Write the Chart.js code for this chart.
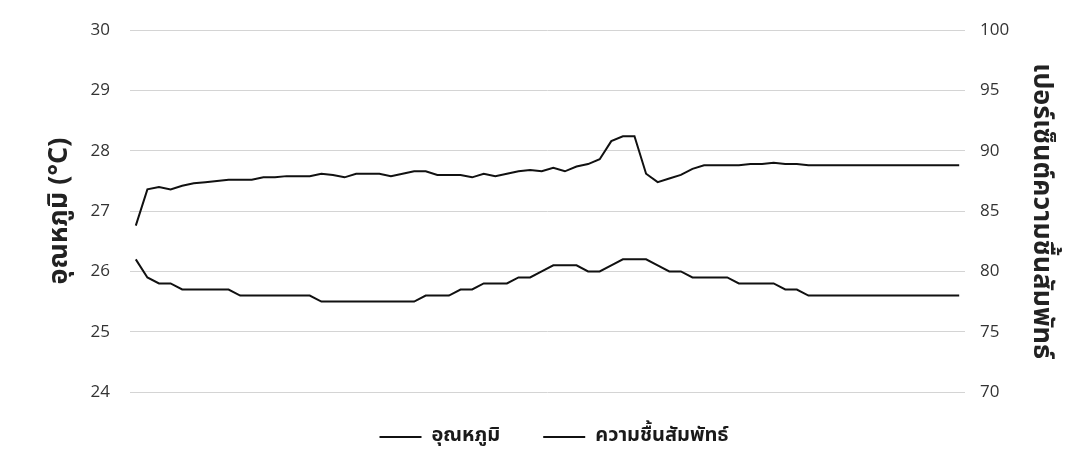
<!DOCTYPE html>
<html>
<head>
<meta charset="utf-8">
<script src="https://cdn.jsdelivr.net/npm/chart.js@4.4.1/dist/chart.umd.min.js"></script>
<style>
  html, body { margin: 0; padding: 0; background: #fff; }
  #wrap { width: 1088px; height: 457px; }
</style>
</head>
<body>
<div id="wrap"><canvas id="climateChart" width="1088" height="457"></canvas></div>
<script>
// hourly readings, 72 points (labels are not shown on the chart)
const hourLabels = [
    '1','2','3','4','5','6','7','8','9','10','11','12',
    '13','14','15','16','17','18','19','20','21','22','23','24',
    '25','26','27','28','29','30','31','32','33','34','35','36',
    '37','38','39','40','41','42','43','44','45','46','47','48',
    '49','50','51','52','53','54','55','56','57','58','59','60',
    '61','62','63','64','65','66','67','68','69','70','71','72'
];

// อุณหภูมิ (°C) - left axis
const temperatureValues = [
    26.2, 25.9, 25.8, 25.8, 25.7, 25.7, 25.7, 25.7, 25.7, 25.6, 25.6, 25.6,
    25.6, 25.6, 25.6, 25.6, 25.5, 25.5, 25.5, 25.5, 25.5, 25.5, 25.5, 25.5,
    25.5, 25.6, 25.6, 25.6, 25.7, 25.7, 25.8, 25.8, 25.8, 25.9, 25.9, 26.0,
    26.1, 26.1, 26.1, 26.0, 26.0, 26.1, 26.2, 26.2, 26.2, 26.1, 26.0, 26.0,
    25.9, 25.9, 25.9, 25.9, 25.8, 25.8, 25.8, 25.8, 25.7, 25.7, 25.6, 25.6,
    25.6, 25.6, 25.6, 25.6, 25.6, 25.6, 25.6, 25.6, 25.6, 25.6, 25.6, 25.6
];

// ความชื้นสัมพัทธ์ (%) - right axis
const humidityValues = [
    83.8, 86.8, 87.0, 86.8, 87.1, 87.3, 87.4, 87.5, 87.6, 87.6, 87.6, 87.8,
    87.8, 87.9, 87.9, 87.9, 88.1, 88.0, 87.8, 88.1, 88.1, 88.1, 87.9, 88.1,
    88.3, 88.3, 88.0, 88.0, 88.0, 87.8, 88.1, 87.9, 88.1, 88.3, 88.4, 88.3,
    88.6, 88.3, 88.7, 88.9, 89.3, 90.8, 91.2, 91.2, 88.1, 87.4, 87.7, 88.0,
    88.5, 88.8, 88.8, 88.8, 88.8, 88.9, 88.9, 89.0, 88.9, 88.9, 88.8, 88.8,
    88.8, 88.8, 88.8, 88.8, 88.8, 88.8, 88.8, 88.8, 88.8, 88.8, 88.8, 88.8
];

const seriesNames = ['อุณหภูมิ', 'ความชื้นสัมพัทธ์'];
const leftTitle = 'อุณหภูมิ (°C)';
const rightTitle = 'เปอร์เซ็นต์ความชื้นสัมพัทธ์';

const thaiFont = "'Noto Sans Thai', 'Noto Sans', 'DejaVu Sans', sans-serif";
const tickFont = "'Open Sans', 'Noto Sans', sans-serif";

// fixed legend box below the plot, and nudge the row into place
const legendBox = {
    id: 'legendBox',
    beforeLayout: function(chart) {
        var legend = chart.legend;
        if (!legend || legend._fixedFit) return;
        var origFit = legend.fit;
        legend.fit = function() {
            origFit.call(this);
            this.height = 65;
        };
        legend._fixedFit = true;
    },
    afterLayout: function(chart) {
        chart.legend.top -= 8;
        chart.legend.bottom -= 8;
        chart.legend.left += 10;
        chart.legend.right += 10;
    }
};

const ctx = document.getElementById('climateChart');

const climateChart = new Chart(ctx, {
    type: 'line',
    data: {
        labels: hourLabels,
        datasets: [{
            label: seriesNames[0],
            data: temperatureValues,
            yAxisID: 'yTemp',
            borderColor: '#111',
            backgroundColor: '#111',
            borderWidth: 2,
            pointRadius: 0,
            tension: 0,
        }, {
            label: seriesNames[1],
            data: humidityValues,
            yAxisID: 'yHum',
            borderColor: '#111',
            backgroundColor: '#111',
            borderWidth: 2,
            pointRadius: 0,
            tension: 0,
        }]
    },
    plugins: [legendBox],
    options: {
        responsive: false,
        animation: false,
        layout: {
            padding: { top: 26, bottom: 0, left: 0, right: 0 }
        },
        plugins: {
            tooltip: { enabled: false },
            legend: {
                position: 'bottom',
                labels: {
                    usePointStyle: true,
                    pointStyle: 'line',
                    pointStyleWidth: 42,
                    color: '#1a1a1a',
                    padding: 43,
                    font: { family: thaiFont, size: 20, weight: 'bold' },
                },
            },
        },
        scales: {
            x: {
                display: false,
                offset: true,
            },
            yTemp: {
                position: 'left',
                min: 24,
                max: 30,
                ticks: {
                    stepSize: 1,
                    padding: 20,
                    color: '#333',
                    font: { family: tickFont, size: 17 },
                },
                grid: { color: '#d4d4d4', lineWidth: 1, drawTicks: false },
                border: { display: false },
                title: {
                    display: true,
                    text: leftTitle,
                    color: '#222',
                    padding: { top: 45, bottom: 0 },
                    font: { family: thaiFont, size: 27, weight: 'bold' },
                },
                afterFit: function(scale) { scale.width = 130; },
            },
            yHum: {
                position: 'right',
                min: 70,
                max: 100,
                ticks: {
                    stepSize: 5,
                    padding: 15,
                    color: '#333',
                    font: { family: tickFont, size: 17 },
                },
                grid: { display: false, drawTicks: false },
                border: { display: false },
                title: {
                    display: true,
                    text: rightTitle,
                    color: '#222',
                    padding: { top: 32, bottom: 0 },
                    font: { family: thaiFont, size: 27, weight: 'bold' },
                },
                afterFit: function(scale) { scale.width = 123; },
            },
        },
    },
});
</script>
</body>
</html>
